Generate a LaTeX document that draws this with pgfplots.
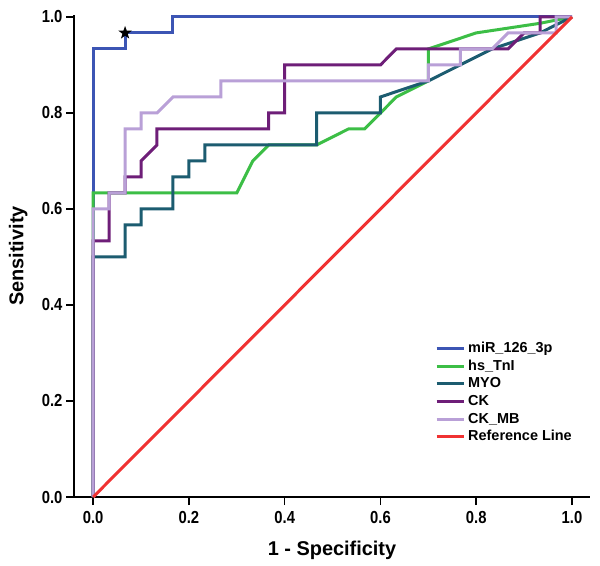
\documentclass[border=0pt]{standalone}
\usepackage{fontspec}
\setmainfont{Liberation Sans}
\newfontfamily\narrowfont{Liberation Sans}[FakeStretch=0.85]
\usepackage{pgfplots}
\pgfplotsset{compat=1.18}
\definecolor{cBlue}{HTML}{3C55B4}
\definecolor{cGreen}{HTML}{3CBE46}
\definecolor{cMyo}{HTML}{1C5C70}
\definecolor{cCK}{HTML}{6E1E78}
\definecolor{cCKMB}{HTML}{B9A0D7}
\definecolor{cRed}{HTML}{F03232}
\pgfdeclareplotmark{fstar}{%
 \pgfpathmoveto{\pgfqpoint{0bp}{7bp}}%
 \pgfpathlineto{\pgfqpoint{-1.65bp}{2.27bp}}%
 \pgfpathlineto{\pgfqpoint{-6.66bp}{2.16bp}}%
 \pgfpathlineto{\pgfqpoint{-2.66bp}{-0.87bp}}%
 \pgfpathlineto{\pgfqpoint{-4.11bp}{-5.66bp}}%
 \pgfpathlineto{\pgfqpoint{0bp}{-2.8bp}}%
 \pgfpathlineto{\pgfqpoint{4.11bp}{-5.66bp}}%
 \pgfpathlineto{\pgfqpoint{2.66bp}{-0.87bp}}%
 \pgfpathlineto{\pgfqpoint{6.66bp}{2.16bp}}%
 \pgfpathlineto{\pgfqpoint{1.65bp}{2.27bp}}%
 \pgfpathclose\pgfusepathqfill}
\begin{document}
\begin{tikzpicture}
\useasboundingbox (0,0) rectangle (600bp,566bp);
\begin{axis}[
  at={(74bp,69bp)}, anchor=south west,
  scale only axis, width=516bp, height=482bp,
  xmin=-0.04, xmax=1.0376, ymin=0, ymax=1.004,
  axis lines=left,
  axis line style={-, line width=2.2bp, black},
  xtick={0,0.2,0.4,0.6,0.8,1.0},
  ytick={0,0.2,0.4,0.6,0.8,1.0},
  tick align=outside, major tick length=8bp,
  tick style={black, line width=1.6bp},
  ticklabel style={font=\narrowfont\bfseries\fontsize{17.5}{17.5}\selectfont},
  xticklabel style={yshift=-3bp},
  /pgf/number format/.cd, fixed, fixed zerofill, precision=1, assume math mode=true,
  /pgfplots/.cd,
  xlabel={1 - Specificity}, ylabel={Sensitivity},
  label style={font=\bfseries\fontsize{20}{20}\selectfont},
  xlabel style={at={(axis description cs:0.5,-0.11)}, anchor=center},
  ylabel style={at={(axis description cs:-0.108,0.5)}, anchor=center},
  clip=false,
  legend cell align=left,
  legend style={draw=none, fill=none, at={(0.6996,0.3215)}, anchor=north west,
    inner sep=0pt, row sep=4.6bp, column sep=3bp,
    font=\bfseries\fontsize{14.5}{14.5}\selectfont,
    nodes={inner sep=0pt, text height=10.5bp, text depth=2.5bp}},
  legend image code/.code={\draw[#1, line width=3bp] (0bp,0bp) -- (27bp,0bp);},
  every axis plot/.append style={line width=3bp, line join=miter},
]
\addplot[cBlue] coordinates {(0,0) (0,0.9333) (0.0667,0.9333) (0.0667,0.9667) (0.1667,0.9667) (0.1667,1) (1,1)};
\addlegendentry{miR\_126\_3p}
\addplot[cGreen] coordinates {(0,0) (0,0.6333) (0.3,0.6333) (0.3333,0.7) (0.3667,0.7333) (0.4667,0.7333) (0.5333,0.7667) (0.5667,0.7667) (0.6,0.8) (0.6333,0.8333) (0.7,0.8667) (0.7,0.9333) (0.8,0.9667) (0.9333,0.9867) (1,1)};
\addlegendentry{hs\_TnI}
\addplot[cMyo] coordinates {(0,0) (0,0.5) (0.0667,0.5) (0.0667,0.5667) (0.1,0.5667) (0.1,0.6) (0.1667,0.6) (0.1667,0.6667) (0.2,0.6667) (0.2,0.7) (0.2333,0.7) (0.2333,0.7333) (0.4667,0.7333) (0.4667,0.8) (0.6,0.8) (0.6,0.8333) (0.7,0.8667) (0.8333,0.9333) (0.9333,0.9667) (1,1)};
\addlegendentry{MYO}
\addplot[cCK] coordinates {(0,0) (0,0.5333) (0.0333,0.5333) (0.0333,0.6333) (0.0667,0.6333) (0.0667,0.6667) (0.1,0.6667) (0.1,0.7) (0.1333,0.7333) (0.1333,0.7667) (0.3667,0.7667) (0.3667,0.8) (0.4,0.8) (0.4,0.9) (0.6,0.9) (0.6333,0.9333) (0.8667,0.9333) (0.9,0.9667) (0.9333,0.9667) (0.9333,1) (1,1)};
\addlegendentry{CK}
\addplot[cCKMB] coordinates {(0,0) (0,0.6) (0.0333,0.6) (0.0333,0.6333) (0.0667,0.6333) (0.0667,0.7667) (0.1,0.7667) (0.1,0.8) (0.1333,0.8) (0.1667,0.8333) (0.2667,0.8333) (0.2667,0.8667) (0.7,0.8667) (0.7,0.9) (0.7667,0.9) (0.7667,0.9333) (0.8333,0.9333) (0.8667,0.9667) (0.9667,0.9667) (0.9667,1) (1,1)};
\addlegendentry{CK\_MB}
\addplot[cRed] coordinates {(0,0) (1,1)};
\addlegendentry{Reference Line}
\addplot[only marks, mark=fstar, black, forget plot] coordinates {(0.0667,0.9667)};
\end{axis}
\end{tikzpicture}
\end{document}
